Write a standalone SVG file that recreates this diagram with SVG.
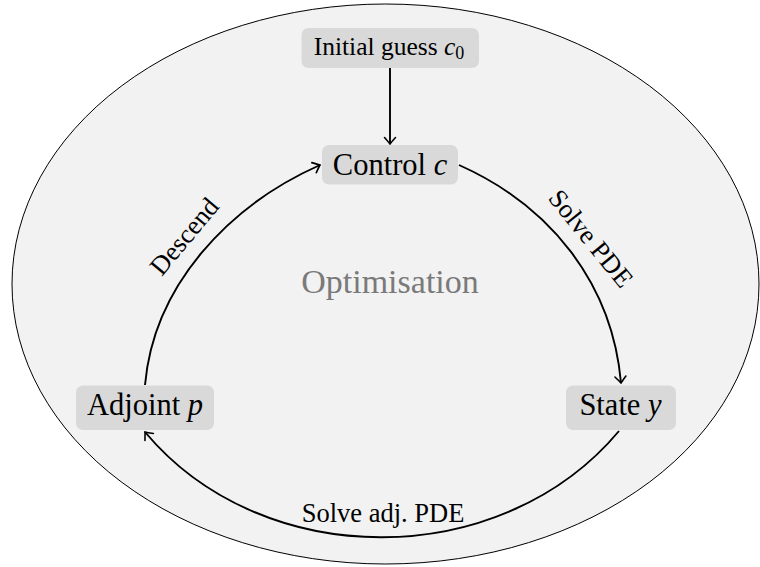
<svg xmlns="http://www.w3.org/2000/svg" width="760" height="567" viewBox="0 0 760 567">
<defs>
<style>
.box{fill:#d9d9d9;}
.nt{font-family:"Liberation Serif","Times New Roman",serif;font-size:30.5px;fill:#000;text-anchor:middle;}
.st{font-family:"Liberation Serif","Times New Roman",serif;font-size:25.5px;fill:#000;text-anchor:middle;}
.el{font-family:"Liberation Serif","Times New Roman",serif;font-size:26.5px;fill:#000;text-anchor:middle;}
.it{font-style:italic;}
.edge{fill:none;stroke:#000;stroke-width:1.9;marker-end:url(#arr);}
</style>
<marker id="arr" markerUnits="userSpaceOnUse" markerWidth="14" markerHeight="14" refX="0" refY="0" viewBox="-8 -7 10 14" orient="auto">
<path d="M-6.5,-5.5 Q-2,-1.5 0,0 Q-2,1.5 -6.5,5.5" fill="none" stroke="#000" stroke-width="1.6" stroke-linecap="round"/>
</marker>
</defs>
<ellipse id="background" cx="385.5" cy="284" rx="373.5" ry="280" fill="#f2f2f2" stroke="#000" stroke-width="1"/>
<text x="390" y="293" font-family="'Liberation Serif','Times New Roman',serif" font-size="34" fill="#7a7a7a" text-anchor="middle">Optimisation</text>
<g id="connectors">
<path class="edge" d="M390,68 L390,144"/>
<path class="edge" d="M459,165 C550.4,205.7 612.3,283.4 621,383"/>
<path class="edge" d="M619,431 C501,572 263,573 145,432"/>
<path class="edge" d="M145,385 C153.7,285.4 228.6,205.7 320,165"/>
<text class="el" transform="translate(584,244) rotate(51)">Solve PDE</text>
<text class="el" transform="translate(191,242) rotate(-50)">Descend</text>
<text class="el" x="383" y="522">Solve adj. PDE</text>
</g>
<g id="initial">
<rect class="box" x="301.5" y="28" width="177.5" height="40" rx="7"/>
<text class="st" x="389" y="55">Initial guess <tspan class="it">c</tspan><tspan font-size="18" dy="4">0</tspan></text>
</g>
<g id="control">
<rect class="box" x="322" y="145" width="136" height="39.5" rx="7"/>
<text class="nt" x="390" y="175">Control <tspan class="it">c</tspan></text>
</g>
<g id="state">
<rect class="box" x="566" y="385.5" width="110" height="44.5" rx="7"/>
<text class="nt" x="620.5" y="415">State <tspan class="it">y</tspan></text>
</g>
<g id="adjoint">
<rect class="box" x="76" y="385.5" width="138" height="44.5" rx="7"/>
<text class="nt" x="145" y="415">Adjoint <tspan class="it">p</tspan></text>
</g>
</svg>
